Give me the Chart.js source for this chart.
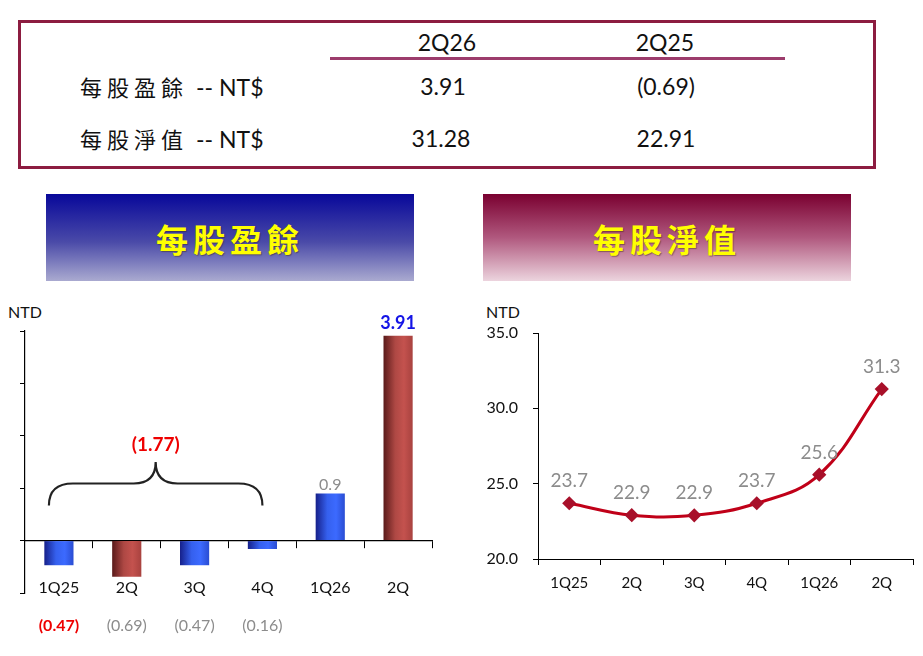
<!DOCTYPE html>
<html>
<head>
<meta charset="utf-8">
<script src="https://cdn.jsdelivr.net/npm/chart.js@4"></script>
<style>
  body { margin: 0; width: 923px; height: 656px; background: #fff; position: relative; overflow: hidden; font-family: Lato, "Noto Sans CJK TC", sans-serif; color: #111; }
  .abs { position: absolute; white-space: nowrap; }
  .ctr { transform: translate(-50%, -50%); }
  .table-box { left: 18px; top: 20px; width: 858px; height: 149px; border: 3px solid #8c1c40; box-sizing: border-box; }
  .rule { left: 330px; top: 57px; width: 455px; height: 3px; background: #9c3c6c; }
  .cell { font-size: 23px; }
  .rowlab { font-size: 23px; transform: translateY(-50%); }
  .rowlab .zh { font-family: "Noto Sans CJK TC", sans-serif; font-weight: 400; font-size: 22px; letter-spacing: 5px; margin-right: 8px; }
  .banner { top: 194px; width: 368px; height: 87px; display: flex; align-items: center; justify-content: center; }
  .banner span { font-family: "Noto Sans CJK TC", sans-serif; font-weight: 700; font-size: 32px; letter-spacing: 5px; color: #ffff00; text-shadow: 1px 1px 1px rgba(60,40,0,0.45); }
  .eps-banner { left: 46px; background: linear-gradient(#08089a, #4a4aa8 55%, #aaaad0); }
  .nav-banner { left: 483px; background: linear-gradient(#7a0030, #b0587e 50%, #ecd4de); }
  .ntd { font-size: 16px; transform: translateY(-50%); }
  canvas { position: absolute; }
</style>
</head>
<body>
<div class="abs table-box"></div>
<div class="abs rule"></div>
<div class="abs ctr cell" style="left:447px;top:42px">2Q26</div>
<div class="abs ctr cell" style="left:665px;top:42px">2Q25</div>
<div class="abs rowlab" style="left:80px;top:86px"><span class="zh">每股盈餘</span>-- NT$</div>
<div class="abs rowlab" style="left:80px;top:138px"><span class="zh">每股淨值</span>-- NT$</div>
<div class="abs ctr cell" style="left:443px;top:86px">3.91</div>
<div class="abs ctr cell" style="left:666px;top:86px">(0.69)</div>
<div class="abs ctr cell" style="left:441px;top:138px">31.28</div>
<div class="abs ctr cell" style="left:666px;top:138px">22.91</div>

<div class="abs banner eps-banner"><span>每股盈餘</span></div>
<div class="abs banner nav-banner"><span>每股淨值</span></div>

<div class="abs ntd" style="left:8px;top:311px">NTD</div>
<div class="abs ntd" style="left:486px;top:311px">NTD</div>

<canvas id="epsChart" width="460" height="366" style="left:0;top:290px;width:460px;height:366px"></canvas>
<canvas id="navChart" width="453" height="310" style="left:470px;top:290px;width:453px;height:310px"></canvas>

<script>
const quarters = ['1Q25', '2Q', '3Q', '4Q', '1Q26', '2Q'];
const epsValues = [-0.47, -0.69, -0.47, -0.16, 0.9, 3.91];
const navValues = [23.7, 22.91, 22.9, 23.7, 25.6, 31.28];
const epsFourQuarters = -1.77;
const epsAxis = { min: -1, max: 4, step: 1 };
const navAxis = { min: 20, max: 35, step: 5 };
const highlightBars = [1, 5];

const FONT = 'Lato, "Noto Sans CJK TC", sans-serif';
const GRAY = '#8c8c8c';

function fmtParen(v, digits) {
  const s = Math.abs(v).toFixed(digits);
  return v < 0 ? '(' + s + ')' : s;
}

function barFill(ctx) {
  const chart = ctx.chart;
  const red = highlightBars.includes(ctx.dataIndex);
  if (!chart.chartArea || ctx.dataIndex === undefined) return red ? '#b04a46' : '#3a66f5';
  const xs = chart.scales.x;
  const cx = xs.getPixelForValue(ctx.dataIndex);
  const w = xs.width / quarters.length * 0.43;
  const g = chart.ctx.createLinearGradient(cx - w / 2, 0, cx + w / 2, 0);
  if (red) {
    g.addColorStop(0, '#5a1a1a');
    g.addColorStop(0.4, '#ae4844');
    g.addColorStop(0.7, '#c4524e');
    g.addColorStop(1, '#a8423f');
  } else {
    g.addColorStop(0, '#16208a');
    g.addColorStop(0.4, '#3560ee');
    g.addColorStop(0.7, '#3c6aff');
    g.addColorStop(1, '#2a4dd2');
  }
  return g;
}

// value labels + the brace over the four 2025 quarters
const epsLabels = {
  id: 'epsLabels',
  afterDatasetsDraw(chart) {
    const { ctx, scales: { x, y } } = chart;
    ctx.save();
    ctx.textAlign = 'center';
    epsValues.forEach((v, i) => {
      const cx = x.getPixelForValue(i);
      if (v < 0) {
        ctx.font = (i === 0 ? 'bold ' : '') + '16px ' + FONT;
        ctx.fillStyle = i === 0 ? '#ee0000' : GRAY;
        ctx.textBaseline = 'middle';
        ctx.fillText(fmtParen(v, 2), cx, y.bottom + 33);
      } else {
        const last = i === epsValues.length - 1;
        ctx.font = (last ? 'bold 18px ' : '16px ') + FONT;
        ctx.fillStyle = last ? '#1414e6' : GRAY;
        ctx.textBaseline = 'alphabetic';
        ctx.fillText(last ? v.toFixed(2) : String(v), cx, y.getPixelForValue(v) - (last ? 7 : 3));
      }
    });

    const xl = x.getPixelForValue(0) - 10;
    const xr = x.getPixelForValue(3);
    const xm = (xl + xr) / 2;
    const yEnd = y.getPixelForValue(0.67);
    const yMid = y.getPixelForValue(1.09);
    const yTip = y.getPixelForValue(1.5);
    ctx.strokeStyle = '#222';
    ctx.lineWidth = 2.2;
    ctx.beginPath();
    ctx.moveTo(xl, yEnd);
    ctx.quadraticCurveTo(xl, yMid, xl + 24, yMid);
    ctx.lineTo(xm - 22, yMid);
    ctx.quadraticCurveTo(xm, yMid, xm, yTip);
    ctx.quadraticCurveTo(xm, yMid, xm + 22, yMid);
    ctx.lineTo(xr - 24, yMid);
    ctx.quadraticCurveTo(xr, yMid, xr, yEnd);
    ctx.stroke();

    ctx.font = 'bold 19px ' + FONT;
    ctx.fillStyle = '#ee0000';
    ctx.textBaseline = 'middle';
    ctx.fillText(fmtParen(epsFourQuarters, 2), xm, y.getPixelForValue(1.83));
    ctx.restore();
  }
};

new Chart(document.getElementById('epsChart'), {
  type: 'bar',
  data: {
    labels: quarters,
    datasets: [{
      data: epsValues,
      backgroundColor: barFill,
      categoryPercentage: 1,
      barPercentage: 0.43
    }]
  },
  options: {
    responsive: false,
    animation: false,
    layout: { padding: { top: 41, right: 28, bottom: 63, left: 0 } },
    plugins: { legend: { display: false }, tooltip: { enabled: false } },
    scales: {
      x: {
        position: { y: 0 },
        border: { color: '#000', width: 1.2 },
        grid: { offset: true, drawOnChartArea: false, tickLength: 7, color: '#000' },
        ticks: { color: '#111', font: { family: FONT, size: 16 }, padding: 31 }
      },
      y: {
        min: epsAxis.min,
        max: epsAxis.max,
        afterFit(scale) { scale.width = 25; },
        border: { color: '#000', width: 1.2 },
        grid: { drawOnChartArea: false, tickLength: 5, color: '#000' },
        ticks: { display: false, stepSize: epsAxis.step }
      }
    }
  },
  plugins: [epsLabels]
});

const navLabels = {
  id: 'navLabels',
  afterDatasetsDraw(chart) {
    const { ctx, scales: { x, y } } = chart;
    ctx.save();
    ctx.font = '19px ' + FONT;
    ctx.fillStyle = GRAY;
    ctx.textAlign = 'center';
    ctx.textBaseline = 'middle';
    navValues.forEach((v, i) => {
      ctx.fillText(v.toFixed(1), x.getPixelForValue(i), y.getPixelForValue(v) - 22);
    });
    ctx.restore();
  }
};

new Chart(document.getElementById('navChart'), {
  type: 'line',
  data: {
    labels: quarters,
    datasets: [{
      data: navValues,
      borderColor: '#c00018',
      borderWidth: 3,
      tension: 0.4,
      pointStyle: 'rectRot',
      pointRadius: 5,
      pointBackgroundColor: '#a8102a',
      pointBorderColor: '#a8102a'
    }]
  },
  options: {
    responsive: false,
    animation: false,
    layout: { padding: { top: 43, right: 10, bottom: 0, left: 0 } },
    plugins: { legend: { display: false }, tooltip: { enabled: false } },
    scales: {
      x: {
        offset: true,
        afterFit(scale) { scale.height = 41; },
        border: { color: '#000', width: 1 },
        grid: { offset: true, drawOnChartArea: false, tickLength: 6, color: '#000' },
        ticks: { color: '#111', font: { family: FONT, size: 15 }, padding: 9 }
      },
      y: {
        min: navAxis.min,
        max: navAxis.max,
        afterFit(scale) { scale.width = 68; },
        border: { color: '#000', width: 1 },
        grid: { drawOnChartArea: false, tickLength: 5, color: '#000' },
        ticks: {
          stepSize: navAxis.step,
          color: '#111',
          padding: 15,
          font: { family: FONT, size: 16 },
          callback: v => v.toFixed(1)
        }
      }
    }
  },
  plugins: [navLabels]
});
</script>
</body>
</html>
